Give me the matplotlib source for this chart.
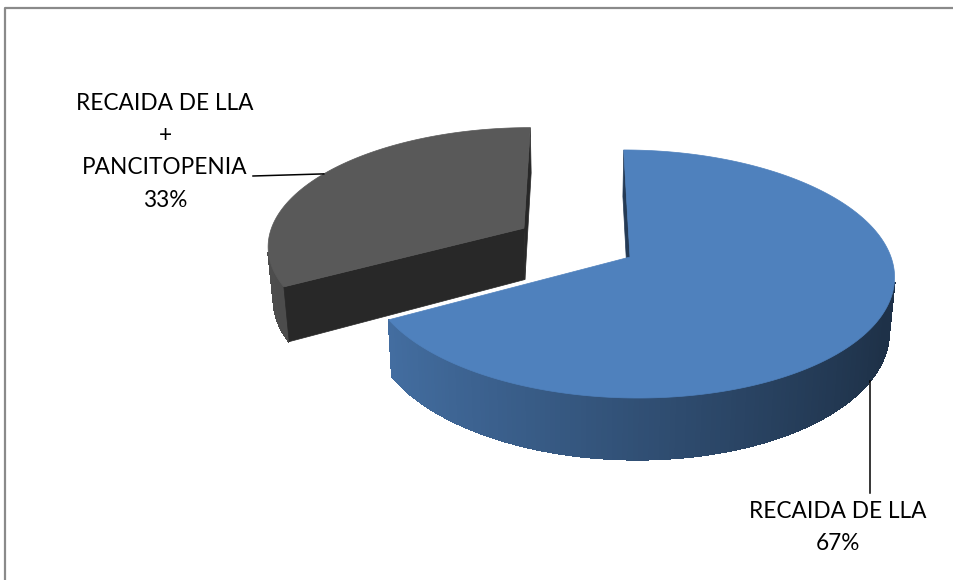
import numpy as np
import matplotlib.pyplot as plt
from matplotlib.patches import Polygon

# Datos del gráfico
categorias = ['RECAIDA DE LLA', 'RECAIDA DE LLA\n+\nPANCITOPENIA']
porcentajes = [67, 33]
color_top = ['#4f81bd', '#595959']
explode = [0.0, 0.48]

# Parámetros de la vista 3D (unidades en píxeles de la figura)
VX = 578.0      # x del punto de fuga
X0 = 52.0       # desplazamiento del centro respecto a VX
CY = 257.0      # y del centro de la tarta
A = 261.0       # semieje horizontal
B = 121.7       # semieje vertical
K = 0.137       # perspectiva en profundidad
H = 53.0        # grosor
D = 0.018       # convergencia de las aristas verticales


def proyectar(X, Y, abajo=False):
    X = np.asarray(X, dtype=float)
    Y = np.asarray(Y, dtype=float)
    s = 1.0 / (1.0 + K * Y)
    px = X0 + A * X
    if abajo:
        px = px * (1 - D)
    sx = VX + px * s
    sy = CY - B * Y * s + (H * s if abajo else 0.0)
    return np.column_stack([sx, sy])


def area(poly):
    x, y = poly[:, 0], poly[:, 1]
    return 0.5 * np.sum(x * np.roll(y, -1) - np.roll(x, -1) * y)


def sombrear(hexcol, f):
    rgb = np.array([int(hexcol[i:i + 2], 16) for i in (1, 3, 5)]) / 255.0
    return tuple(np.clip(rgb * f, 0, 1))


def brillo_pared(t):
    return float(np.clip(0.62 - 0.26 * np.cos(t), 0.38, 0.9))


fig = plt.figure(figsize=(9.54, 5.80), dpi=100)
ax = fig.add_axes([0, 0, 1, 1])
ax.set_xlim(0, 954)
ax.set_ylim(580, 0)
ax.axis('off')

# Marco del gráfico
ax.plot([5, 5, 954], [580, 8, 8], color='#8a8a8a', lw=1.6, solid_capstyle='butt')

# Ángulos de cada porción: desde las 12 en sentido horario
fracs = np.array(porcentajes) / np.sum(porcentajes)
inicio = np.pi / 2
porciones = []
for i, f in enumerate(fracs):
    t_fin = inicio
    t_ini = inicio - 2 * np.pi * f
    porciones.append((t_ini, t_fin))
    inicio = t_ini

# Se dibuja primero la porción de atrás (la gris separada)
orden = [1, 0]
anclas = {}
for i in orden:
    t1, t2 = porciones[i]
    tm = 0.5 * (t1 + t2)
    cx = explode[i] * np.cos(tm)
    cy = explode[i] * np.sin(tm)
    base = color_top[i]

    # pared exterior en tiras finas
    ts = np.linspace(t1, t2, 240)
    arco_top = proyectar(cx + np.cos(ts), cy + np.sin(ts))
    arco_bot = proyectar(cx + np.cos(ts), cy + np.sin(ts), abajo=True)
    for j in range(len(ts) - 1):
        quad = np.array([arco_top[j], arco_top[j + 1], arco_bot[j + 1], arco_bot[j]])
        if area(quad) <= 0:
            continue
        col = sombrear(base, brillo_pared(0.5 * (ts[j] + ts[j + 1])))
        ax.add_patch(Polygon(quad, closed=True, facecolor=col, edgecolor=col,
                             lw=1.0, antialiased=False))

    # caras de corte radiales
    v_top = proyectar([cx], [cy])[0]
    v_bot = proyectar([cx], [cy], abajo=True)[0]
    for t, es_fin in ((t1, False), (t2, True)):
        r_top = proyectar([cx + np.cos(t)], [cy + np.sin(t)])[0]
        r_bot = proyectar([cx + np.cos(t)], [cy + np.sin(t)], abajo=True)[0]
        if es_fin:
            cara = np.array([r_top, v_top, v_bot, r_bot])
        else:
            cara = np.array([v_top, r_top, r_bot, v_bot])
        if area(cara) <= 0:
            continue
        col = sombrear(base, 0.45)
        ax.add_patch(Polygon(cara, closed=True, facecolor=col, edgecolor=col, lw=0.5))

    # cara superior
    sup = np.vstack([v_top, arco_top])
    ax.add_patch(Polygon(sup, closed=True, facecolor=base, edgecolor=base, lw=0.5))

    anclas[i] = (proyectar([cx + np.cos(tm)], [cy + np.sin(tm)])[0],
                 proyectar([cx + np.cos(tm)], [cy + np.sin(tm)], abajo=True)[0])

# Etiquetas de datos
fuente = dict(family=['Lato', 'DejaVu Sans'], fontsize=16.3, color='black',
              ha='center', va='center')

lineas_gris = categorias[1].split('\n') + [f'{porcentajes[1]}%']
for k, txt in enumerate(lineas_gris):
    ax.text(165, 103 + k * 32.5, txt, **fuente)
ancla = anclas[1][0]
ax.plot([253, ancla[0]], [176, ancla[1]], color='black', lw=1.1)

lineas_azul = categorias[0].split('\n') + [f'{porcentajes[0]}%']
for k, txt in enumerate(lineas_azul):
    ax.text(838, 512 + k * 31, txt, **fuente)
ancla = anclas[0][1]
ax.plot([ancla[0], ancla[0]], [ancla[1], 493], color='black', lw=1.1)

fig.savefig('out.png', dpi=100)
